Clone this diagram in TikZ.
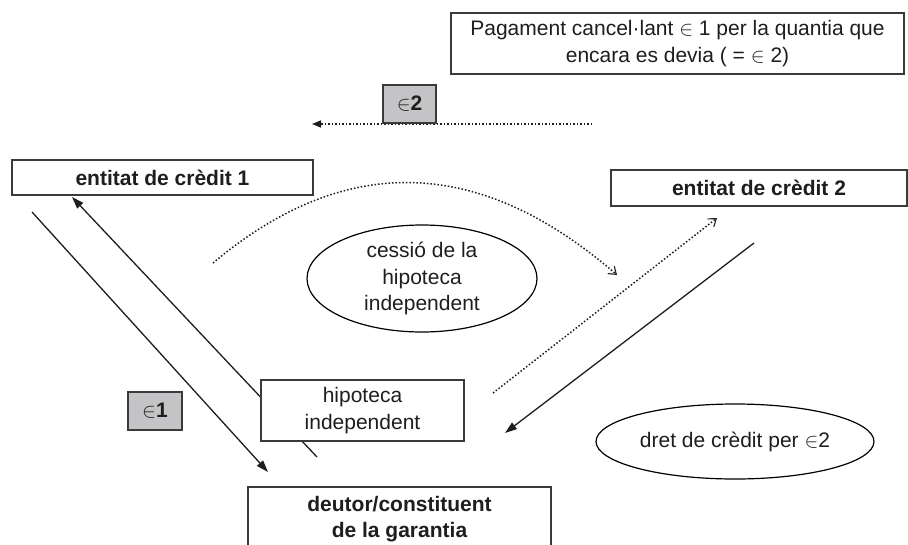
\documentclass[tikz,border=0pt]{standalone}
\usepackage{fontspec}
\setmainfont{Liberation Sans}
\usetikzlibrary{arrows.meta,shapes.geometric}
\definecolor{boxline}{HTML}{3A3A3A}
\definecolor{eurofill}{HTML}{C4C4C6}
\definecolor{ink}{HTML}{1E1E1E}
\tikzset{
  txt/.style={font=\fontsize{21}{26.5}\selectfont, text=ink, align=center, inner sep=0pt},
  plainbox/.style={txt, draw=boxline, line width=1.1pt, fill=white, rectangle},
  boldbox/.style={plainbox, font=\fontsize{21}{26.5}\selectfont\bfseries},
  eurobox/.style={plainbox, fill=eurofill},
  oval/.style={txt, draw=black, line width=1.2pt, ellipse, fill=white},
  solidarrow/.style={draw=ink, line width=1.3pt, -{Triangle[length=12pt,width=8pt]}},
  dotline/.style={draw=ink, line width=1.5pt, dash pattern=on 1.5pt off 2pt},
  dotopen/.style={dotline, -{Straight Barb[length=7pt,width=10pt,line width=1.1pt]}},
  dotfilled/.style={dotline, -{Triangle[length=9pt,width=7pt]}},
}
\begin{document}
\begin{tikzpicture}[x=1pt,y=-1pt]
\useasboundingbox[fill=white] (0,0) rectangle (908,544);
% free ends of connectors
\coordinate (aS) at (32,212);
\coordinate (aE) at (268,472);
\coordinate (bS) at (317,457);
\coordinate (bE) at (72,197);
\coordinate (cS) at (213,263);
\coordinate (cE) at (617,275);
\coordinate (dS) at (493,393);
\coordinate (dE) at (717,218);
\coordinate (eS) at (754,243);
\coordinate (eE) at (505,433);
\coordinate (fS) at (592,124);
\coordinate (fE) at (312,124);
% connectors
\draw[solidarrow] (aS) -- (aE);
\draw[solidarrow] (bS) -- (bE);
\draw[dotopen] (cS) .. controls (345,152) and (480,156) .. (cE);
\draw[dotopen] (dS) -- (dE);
\draw[solidarrow] (eS) -- (eE);
\draw[dotfilled] (fS) -- (fE);
% nodes
\node[plainbox, minimum width=453pt, minimum height=61pt] (pag) at (677.5,43.5)
  {Pagament cancel·lant \(\in\) 1 per la quantia que\\encara es devia ( = \(\in\) 2)};
\node[eurobox, minimum width=53pt, minimum height=38pt] (eur2) at (409.5,104) {\(\in\)\textbf{2}};
\node[boldbox, minimum width=301pt, minimum height=35pt] (ent1) at (162.5,177.5) {entitat de crèdit 1};
\node[boldbox, minimum width=296pt, minimum height=36pt] (ent2) at (759,188) {entitat de crèdit 2};
\node[oval, minimum width=230pt, minimum height=107pt] (cessio) at (422,278.5)
  {cessió de la\\hipoteca\\independent};
\node[plainbox, minimum width=203pt, minimum height=61pt] (hipo) at (362.5,410.5)
  {hipoteca\\independent};
\node[eurobox, minimum width=54pt, minimum height=38pt] (eur1) at (155,411) {\(\in\)\textbf{1}};
\node[oval, minimum width=278pt, minimum height=75pt] (dret) at (735,441.5)
  {dret de crèdit per \(\in\)2};
\node[boldbox, minimum width=303pt, minimum height=64pt] (deutor) at (399.5,519)
  {deutor/constituent\\de la garantia};
\end{tikzpicture}
\end{document}
